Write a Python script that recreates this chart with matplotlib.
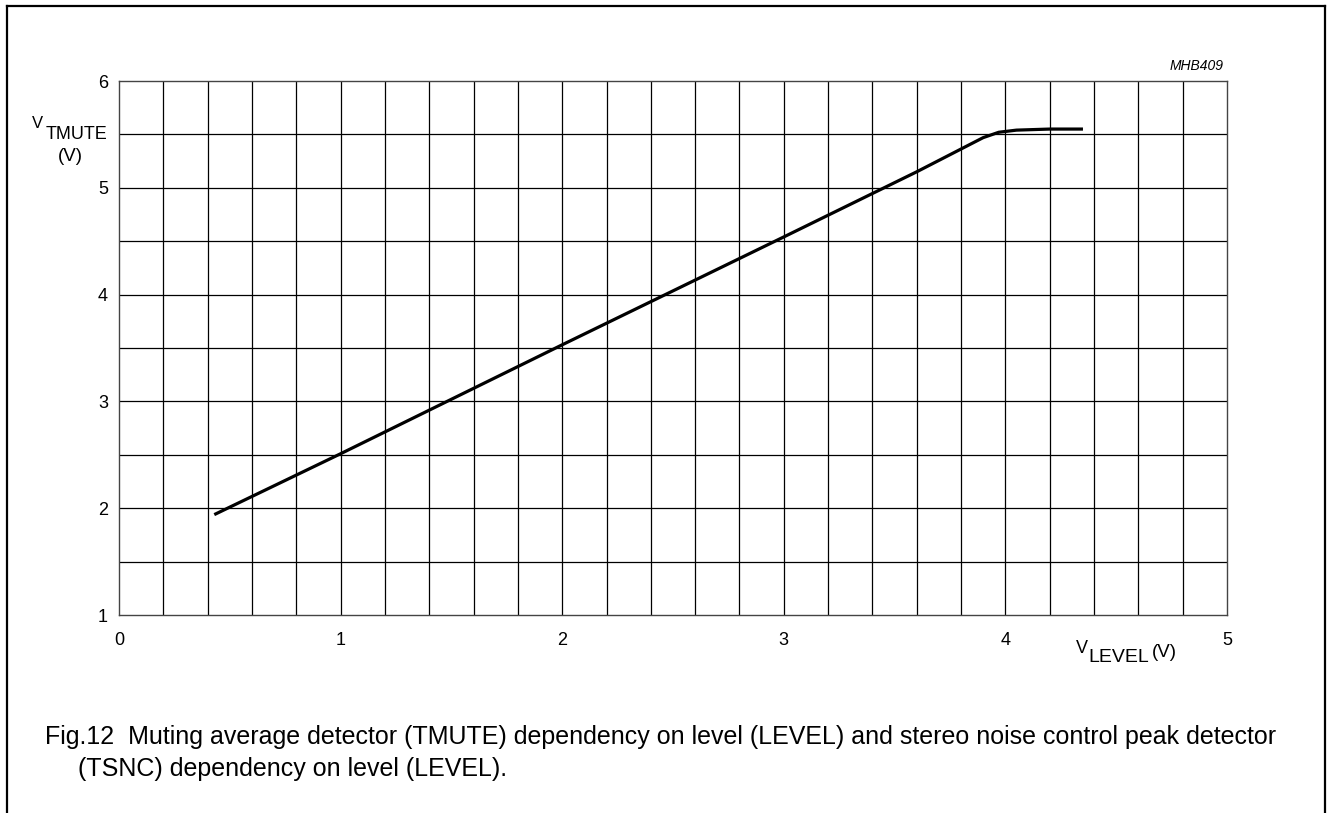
import matplotlib
matplotlib.use("Agg")
import matplotlib.pyplot as plt
from matplotlib.lines import Line2D
import numpy as np

plt.rcParams['font.family'] = ['Liberation Sans', 'DejaVu Sans']

# Data
v_level = [0.43, 1.0, 2.0, 3.0, 3.6, 3.9, 3.97, 4.05, 4.2, 4.35]
v_tmute = [1.94, 2.51, 3.53, 4.54, 5.15, 5.47, 5.52, 5.54, 5.55, 5.55]
x_ticks = [0, 1, 2, 3, 4, 5]
y_ticks = [1, 2, 3, 4, 5, 6]
caption1 = "Fig.12  Muting average detector (TMUTE) dependency on level (LEVEL) and stereo noise control peak detector"
caption2 = "(TSNC) dependency on level (LEVEL)."

W, H = 1329, 813
fig = plt.figure(figsize=(W / 100, H / 100), dpi=100)

def fx(px):
    return px / W

def fy(py):
    return 1 - py / H

ax = fig.add_axes([fx(119), fy(615), fx(1227) - fx(119), fy(81) - fy(615)])
ax.set_xlim(0, 5)
ax.set_ylim(1, 6)

# grid
for xv in np.arange(0.2, 5.0, 0.2):
    ax.axvline(xv, color='black', lw=0.9, zorder=1)
for yv in np.arange(1.5, 6.0, 0.5):
    ax.axhline(yv, color='black', lw=0.9, zorder=1)

ax.plot(v_level, v_tmute, color='black', lw=2.3, zorder=3, solid_capstyle='butt')

ax.set_xticks(x_ticks)
ax.set_yticks(y_ticks)
ax.set_xticklabels([str(t) for t in x_ticks])
ax.set_yticklabels([str(t) for t in y_ticks])
ax.tick_params(axis='both', length=0, labelsize=13)
ax.tick_params(axis='x', pad=12)
ax.tick_params(axis='y', pad=8)
for s in ax.spines.values():
    s.set_color('#444444')
    s.set_linewidth(1.0)

# axis labels
fig.text(fx(32), fy(128), "V", fontsize=12, ha='left', va='baseline')
fig.text(fx(46), fy(139), "TMUTE", fontsize=13, ha='left', va='baseline')
fig.text(fx(70), fy(161), "(V)", fontsize=13.5, ha='center', va='baseline')

fig.text(fx(1076), fy(653), "V", fontsize=13, ha='left', va='baseline')
fig.text(fx(1088), fy(662), "LEVEL", fontsize=14, ha='left', va='baseline')
fig.text(fx(1152), fy(657), "(V)", fontsize=13.5, ha='left', va='baseline')

fig.text(fx(1224), fy(70), "MHB409", fontsize=10, style='italic', ha='right', va='baseline')

fig.text(fx(45), fy(744), caption1, fontsize=18, ha='left', va='baseline')
fig.text(fx(78), fy(776), caption2, fontsize=18, ha='left', va='baseline')

# frame
frame_kw = dict(color='black', lw=1.6, transform=fig.transFigure)
fig.add_artist(Line2D([fx(7), fx(1325)], [fy(6), fy(6)], **frame_kw))
fig.add_artist(Line2D([fx(7), fx(7)], [fy(6), 0], **frame_kw))
fig.add_artist(Line2D([fx(1325), fx(1325)], [fy(6), 0], **frame_kw))

fig.savefig("out.png", dpi=100)
